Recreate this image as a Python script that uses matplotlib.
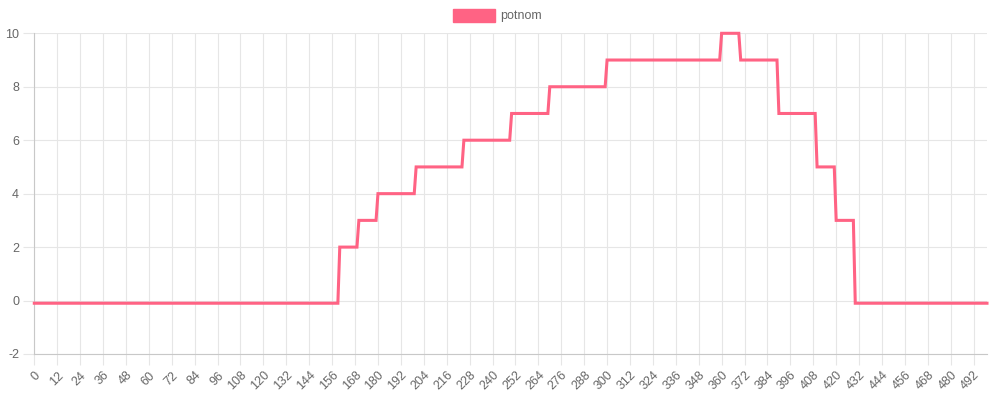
import numpy as np
import matplotlib.pyplot as plt

# step levels of 'potnom' and how many samples each level lasts
levels = [-0.1, 2, 3, 4, 5, 6, 7, 8, 9, 10, 9, 7, 5, 3, -0.1]
run_lengths = [160, 10, 10, 20, 25, 25, 20, 30, 60, 10, 20, 20, 10, 10, 70]
potnom = np.repeat(levels, run_lengths)
labels = np.arange(len(potnom))
shown_labels = labels[::12]
y_ticks = [-2, 0, 2, 4, 6, 8, 10]

pink = '#ff6384'
grid_col = '#e6e6e6'
plt.rcParams['font.family'] = ['Liberation Sans', 'DejaVu Sans']

fig = plt.figure(figsize=(9.97, 3.95), dpi=100)
ax = fig.add_axes([34.3 / 997, 41 / 395, (987 - 34.3) / 997, (354 - 33.3) / 395])

ax.plot(labels, potnom, color=pink, lw=2.2, solid_joinstyle='miter', zorder=3,
        clip_on=False)

ax.set_xlim(0, len(potnom) - 1)
ax.set_ylim(-2, 10)
ax.set_xticks(shown_labels)
ax.set_xticklabels([str(v) for v in shown_labels], rotation=45, ha='right',
                   rotation_mode='anchor', fontsize=9, color='#666666')
ax.set_yticks(y_ticks)
ax.set_yticklabels([str(v) for v in y_ticks], fontsize=9, color='#666666')
ax.tick_params(axis='both', length=8, width=0.8, color=grid_col, pad=3)
ax.grid(True, color=grid_col, lw=0.8, zorder=0)

for side in ['top', 'right']:
    ax.spines[side].set_visible(False)
for side in ['left', 'bottom']:
    ax.spines[side].set_color('#c8c8c8')
    ax.spines[side].set_linewidth(0.8)

# legend box like chart.js
fig.patches.append(plt.Rectangle((453 / 997, 1 - 22 / 395), 42 / 997, 13 / 395,
                                 transform=fig.transFigure, facecolor=pink,
                                 edgecolor=pink, lw=1))
fig.text(500 / 997, 1 - 15.5 / 395, 'potnom', fontsize=9, color='#666666',
         va='center', ha='left')

fig.savefig('out.png', dpi=100)
